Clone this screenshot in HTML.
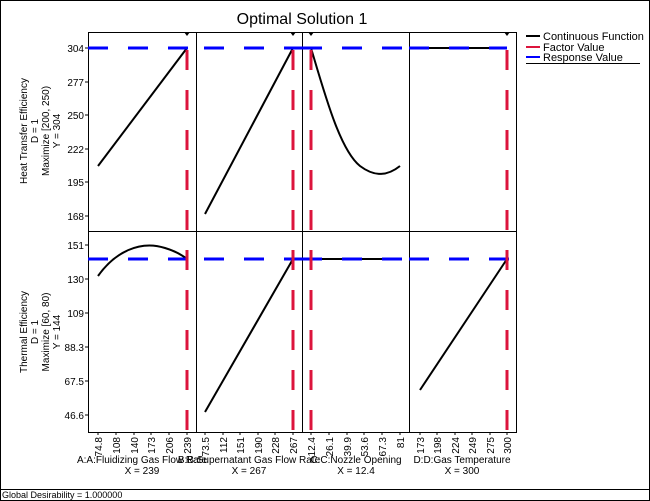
<!DOCTYPE html>
<html><head><style>
html,body{margin:0;padding:0;background:#fff;}
svg{display:block;font-family:"Liberation Sans",sans-serif;}
</style></head><body>
<svg width="650" height="501" viewBox="0 0 650 501" xmlns="http://www.w3.org/2000/svg">
<rect x="0.5" y="0.5" width="649" height="500" fill="#fff" stroke="#000"/>
<line x1="0" y1="489.5" x2="650" y2="489.5" stroke="#000"/>
<text x="2" y="498" font-size="9">Global Desirability = 1.000000</text>
<text x="302" y="24" font-size="16" text-anchor="middle">Optimal Solution 1</text>

<g fill="none" stroke="#000" stroke-width="1">
<rect x="88.5" y="32.5" width="428" height="400"/>
<line x1="196.5" y1="32" x2="196.5" y2="432"/>
<line x1="302.5" y1="32" x2="302.5" y2="432"/>
<line x1="409.5" y1="32" x2="409.5" y2="432"/>
<line x1="88" y1="231.5" x2="516" y2="231.5"/>
</g>

<g fill="none" stroke="#000" stroke-width="2">
<line x1="98" y1="166" x2="187" y2="48"/>
<line x1="205" y1="214" x2="293" y2="48"/>
<path d="M311,48 C325,95 340,150 360,166 C372,175 385,178 400,166"/>
<line x1="409" y1="48" x2="507" y2="48"/>
<path d="M98,276 C115,252 140,240 165,248 C175,251 182,255 187,259"/>
<line x1="205" y1="412" x2="293" y2="259"/>
<line x1="311" y1="259" x2="400" y2="259"/>
<line x1="420" y1="390" x2="507" y2="259"/>
</g>

<g stroke="#0000ff" stroke-width="3" stroke-dasharray="20 20">
<line x1="88" y1="48" x2="196" y2="48"/>
<line x1="196" y1="48" x2="302" y2="48" stroke-dashoffset="-8"/>
<line x1="302" y1="48" x2="409" y2="48"/>
<line x1="409" y1="48" x2="507" y2="48"/>
<line x1="88" y1="259" x2="196" y2="259"/>
<line x1="196" y1="259" x2="302" y2="259" stroke-dashoffset="-8"/>
<line x1="302" y1="259" x2="409" y2="259"/>
<line x1="409" y1="259" x2="516" y2="259"/>
</g>
<g stroke="#dc143c" stroke-width="3" stroke-dasharray="20 20">
<line x1="187" y1="50" x2="187" y2="432"/>
<line x1="293" y1="50" x2="293" y2="432"/>
<line x1="311" y1="50" x2="311" y2="432"/>
<line x1="507" y1="50" x2="507" y2="432"/>
</g>
<g fill="#000">
<path d="M184,32 L190,32 L187,36Z"/><path d="M290,32 L296,32 L293,36Z"/>
<path d="M308,32 L314,32 L311,36Z"/><path d="M504,32 L510,32 L507,36Z"/>
</g>

<g stroke="#000"><line x1="85" y1="48" x2="88" y2="48"/><line x1="85" y1="82" x2="88" y2="82"/><line x1="85" y1="115" x2="88" y2="115"/><line x1="85" y1="149" x2="88" y2="149"/><line x1="85" y1="182" x2="88" y2="182"/><line x1="85" y1="216" x2="88" y2="216"/>
<line x1="85" y1="245" x2="88" y2="245"/><line x1="85" y1="279" x2="88" y2="279"/><line x1="85" y1="313" x2="88" y2="313"/><line x1="85" y1="347" x2="88" y2="347"/><line x1="85" y1="381" x2="88" y2="381"/><line x1="85" y1="415" x2="88" y2="415"/></g>
<g font-size="10" text-anchor="end">
<text x="84" y="52">304</text><text x="84" y="86">277</text><text x="84" y="119">250</text><text x="84" y="153">222</text><text x="84" y="186">195</text><text x="84" y="220">168</text>
<text x="84" y="249">151</text><text x="84" y="283">130</text><text x="84" y="317">109</text><text x="84" y="351">88.3</text><text x="84" y="385">67.5</text><text x="84" y="419">46.6</text>
</g>
<g font-size="10" text-anchor="middle">
<g transform="translate(27,131) rotate(-90)"><text y="0">Heat Transfer Efficiency</text><text y="11">D = 1</text><text y="22">Maximize [200, 250)</text><text y="33">Y = 304</text></g>
<g transform="translate(27,332) rotate(-90)"><text y="0">Thermal Efficiency</text><text y="11">D = 1</text><text y="22">Maximize [60, 80)</text><text y="33">Y = 144</text></g>
</g>

<g font-size="10" text-anchor="end">
<g stroke="#000">
<line x1="98" y1="432" x2="98" y2="435"/><line x1="116" y1="432" x2="116" y2="435"/><line x1="134" y1="432" x2="134" y2="435"/><line x1="151" y1="432" x2="151" y2="435"/><line x1="169" y1="432" x2="169" y2="435"/><line x1="187" y1="432" x2="187" y2="435"/>
<line x1="205" y1="432" x2="205" y2="435"/><line x1="223" y1="432" x2="223" y2="435"/><line x1="240" y1="432" x2="240" y2="435"/><line x1="258" y1="432" x2="258" y2="435"/><line x1="275" y1="432" x2="275" y2="435"/><line x1="293" y1="432" x2="293" y2="435"/>
<line x1="311" y1="432" x2="311" y2="435"/><line x1="329" y1="432" x2="329" y2="435"/><line x1="347" y1="432" x2="347" y2="435"/><line x1="364" y1="432" x2="364" y2="435"/><line x1="382" y1="432" x2="382" y2="435"/><line x1="400" y1="432" x2="400" y2="435"/>
<line x1="420" y1="432" x2="420" y2="435"/><line x1="437" y1="432" x2="437" y2="435"/><line x1="455" y1="432" x2="455" y2="435"/><line x1="472" y1="432" x2="472" y2="435"/><line x1="490" y1="432" x2="490" y2="435"/><line x1="507" y1="432" x2="507" y2="435"/>
</g>
<text transform="translate(102,437) rotate(-90)">74.8</text><text transform="translate(120,437) rotate(-90)">108</text><text transform="translate(138,437) rotate(-90)">140</text><text transform="translate(155,437) rotate(-90)">173</text><text transform="translate(173,437) rotate(-90)">206</text><text transform="translate(191,437) rotate(-90)">239</text>
<text transform="translate(209,437) rotate(-90)">73.5</text><text transform="translate(227,437) rotate(-90)">112</text><text transform="translate(244,437) rotate(-90)">151</text><text transform="translate(262,437) rotate(-90)">190</text><text transform="translate(279,437) rotate(-90)">228</text><text transform="translate(297,437) rotate(-90)">267</text>
<text transform="translate(315,437) rotate(-90)">12.4</text><text transform="translate(333,437) rotate(-90)">26.1</text><text transform="translate(351,437) rotate(-90)">39.9</text><text transform="translate(368,437) rotate(-90)">53.6</text><text transform="translate(386,437) rotate(-90)">67.3</text><text transform="translate(404,437) rotate(-90)">81</text>
<text transform="translate(424,437) rotate(-90)">173</text><text transform="translate(441,437) rotate(-90)">198</text><text transform="translate(459,437) rotate(-90)">224</text><text transform="translate(476,437) rotate(-90)">249</text><text transform="translate(494,437) rotate(-90)">275</text><text transform="translate(511,437) rotate(-90)">300</text>
</g>
<g font-size="10" text-anchor="middle">
<text x="142" y="463">A:A:Fluidizing Gas Flow Rate</text><text x="142" y="474">X = 239</text>
<text x="249" y="463">B:B:Supernatant Gas Flow Rate</text><text x="249" y="474">X = 267</text>
<text x="356" y="463">C:C:Nozzle Opening</text><text x="356" y="474">X = 12.4</text>
<text x="462" y="463">D:D:Gas Temperature</text><text x="462" y="474">X = 300</text>
</g>

<g stroke-width="2">
<line x1="526" y1="36" x2="540" y2="36" stroke="#000"/>
<line x1="526" y1="47" x2="540" y2="47" stroke="#dc143c"/>
<line x1="526" y1="57" x2="540" y2="57" stroke="#0000ff"/>
</g>
<line x1="526" y1="63.5" x2="640" y2="63.5" stroke="#000"/>
<g font-size="11"><text x="543" y="40">Continuous Function</text><text x="543" y="51">Factor Value</text><text x="543" y="61">Response Value</text></g>
</svg>
</body></html>
